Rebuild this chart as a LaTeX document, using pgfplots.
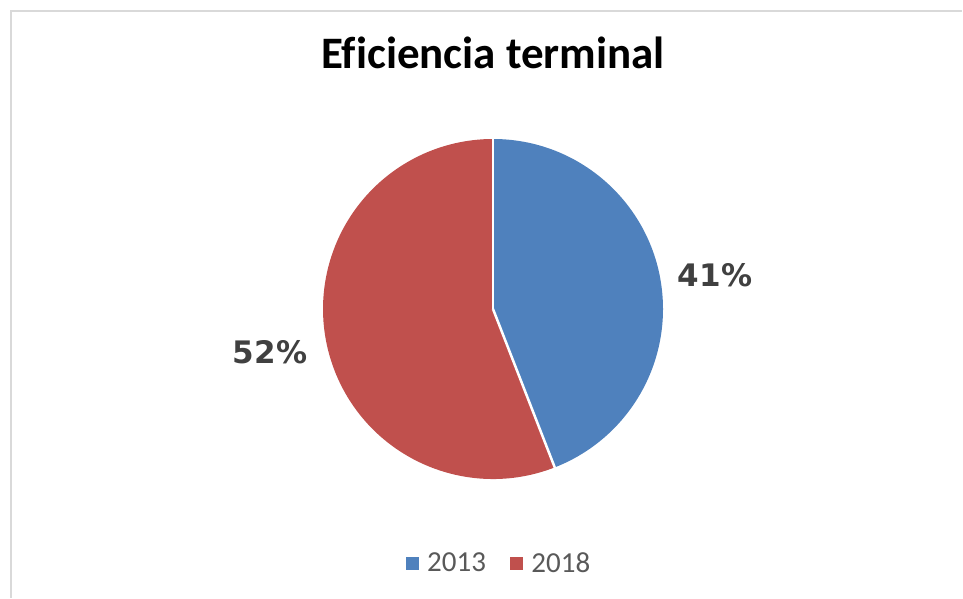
\documentclass[border=0pt]{standalone}
\usepackage{pgfplots}
\pgfplotsset{compat=1.18}
\usepackage{pgfplotstable}
\usepackage{fontspec}
\setmainfont{Carlito}[Ligatures=CommonOff]
\newfontfamily\labelfont{DejaVu Sans}
\definecolor{pieblue}{HTML}{4F81BD}
\definecolor{piered}{HTML}{C0504D}
\definecolor{labelgray}{HTML}{404040}
\definecolor{leggray}{HTML}{595959}
\definecolor{framegray}{HTML}{D9D9D9}

% shares shown on the chart
\pgfplotstableread{
year share
2013 41
2018 52
}\piedata

\begin{document}
\begin{tikzpicture}
\pgfplotstablegetelem{0}{share}\of\piedata \let\shareA\pgfplotsretval
\pgfplotstablegetelem{1}{share}\of\piedata \let\shareB\pgfplotsretval
\pgfmathsetmacro\angA{90-360*\shareA/(\shareA+\shareB)}
\begin{axis}[
  scale only axis, width=963pt, height=598pt,
  xmin=0, xmax=963, ymin=0, ymax=598,
  hide axis, clip=false,
  legend columns=2,
  legend style={at={(axis cs:499,35)}, anchor=center, draw=none, fill=none,
    font=\fontsize{29}{33}\selectfont\color{leggray},
    /tikz/every even column/.append style={column sep=22pt}},
  legend image code/.code={\fill[#1] (0pt,-6pt) rectangle (12pt,6pt); \path (19pt,0pt);},
]
  % fixed page size
  \path (axis cs:0,0) rectangle (axis cs:963,598);
  % outer frame (top and left edges visible)
  \draw[framegray, line width=2pt] (axis cs:10.5,0) -- (axis cs:10.5,587) -- (axis cs:962,587);

  % pie slices
  \fill[pieblue] (axis cs:493,289) -- ++(90:170pt) arc[start angle=90, end angle=\angA, radius=170pt] -- cycle;
  \fill[piered] (axis cs:493,289) -- ++(\angA:170pt) arc[start angle=\angA, end angle=-270, radius=170pt] -- cycle;
  \draw[white, line width=2.5pt] (axis cs:493,289) -- ++(90:171pt);
  \draw[white, line width=2.5pt] (axis cs:493,289) -- ++(\angA:171pt);

  % data labels
  \node[font=\labelfont\bfseries\fontsize{31}{36}\selectfont, text=labelgray] at (axis cs:715,323) {41\%};
  \node[font=\labelfont\bfseries\fontsize{31}{36}\selectfont, text=labelgray] at (axis cs:270,246) {52\%};

  % title
  \node[font=\bfseries\fontsize{45}{52}\selectfont] at (axis cs:493,545) {Eficiencia terminal};

  \addlegendimage{pieblue}
  \addlegendentry{2013}
  \addlegendimage{piered}
  \addlegendentry{2018}
\end{axis}
\end{tikzpicture}
\end{document}
